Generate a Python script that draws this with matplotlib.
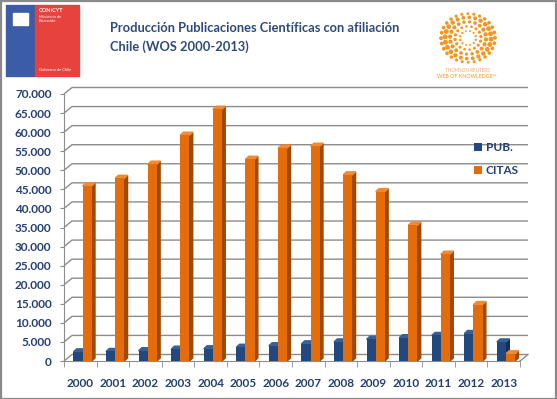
import numpy as np
import matplotlib.pyplot as plt
from matplotlib.patches import Polygon, Rectangle

# data
years = ['2000', '2001', '2002', '2003', '2004', '2005', '2006',
         '2007', '2008', '2009', '2010', '2011', '2012', '2013']
pub = [2400, 2500, 2700, 3100, 3200, 3600, 4000,
       4500, 5000, 5700, 6100, 6700, 7200, 5000]
citas = [45900, 47900, 51600, 59200, 66000, 52900, 55800,
         56300, 48800, 44400, 35600, 28000, 14800, 1900]
yticks = list(range(0, 70001, 5000))
ytick_labels = ['0'] + [f'{v // 1000}.000' for v in yticks[1:]]

NAVY = '#21497f'
ORANGE = '#e46c0a'
TXT = '#243f73'
GRID = '#8c8c8c'

plt.rcParams['font.family'] = ['Lato', 'DejaVu Sans']

W, H = 557, 399
fig = plt.figure(figsize=(W / 100, H / 100), dpi=100)
fig.patch.set_facecolor('white')

# axes: front floor from x=64..520 px, y=361 (0) .. 94 (70000)
ax = fig.add_axes([64 / W, (H - 361) / H, 456 / W, 267 / H])
ax.set_xlim(-0.5, len(years) - 0.5)
ax.set_ylim(0, 70000)
ax.patch.set_alpha(0)

px_x = (len(years)) / 456.0     # data units per pixel
px_y = 70000 / 267.0
gx, gy = 8 * px_x, 6.5 * px_y    # back wall offset
dx, dy = 3.3 * px_x, 3.0 * px_y  # bar depth

# back wall gridlines with the 3D diagonal on the left
x0, x1 = -0.5, len(years) - 0.5
for v in yticks:
    ax.plot([x0, x0 + gx, x1 + gx], [v, v + gy, v + gy], color=GRID,
            lw=1, zorder=1, clip_on=False, solid_capstyle='butt')
ax.plot([x1, x1 + gx], [0, gy], color=GRID, lw=1, zorder=1, clip_on=False)

x = np.arange(len(years))
w = 0.28
b1 = ax.bar(x - 0.07, pub, w, color=NAVY, zorder=3, label='PUB.')
b2 = ax.bar(x + 0.21, citas, w, color=ORANGE, zorder=3, label='CITAS')


def add_depth(bars, side, top):
    for r in bars:
        xl, wd, h = r.get_x(), r.get_width(), r.get_height()
        xr = xl + wd
        ax.add_patch(Polygon([(xr, 0), (xr + dx, dy), (xr + dx, h + dy), (xr, h)],
                             closed=True, color=side, zorder=2, clip_on=False))
        ax.add_patch(Polygon([(xl, h), (xl + dx, h + dy), (xr + dx, h + dy), (xr, h)],
                             closed=True, color=top, zorder=2, clip_on=False))


add_depth(b1, '#142f55', '#3a5f96')
add_depth(b2, '#9e4a06', '#f08a34')

for s in ['top', 'right']:
    ax.spines[s].set_visible(False)
ax.spines['left'].set_color(GRID)
ax.spines['bottom'].set_color(GRID)

ax.set_yticks(yticks)
ax.set_yticklabels(ytick_labels)
ax.tick_params(axis='y', length=3, color=GRID, pad=6, labelsize=8.5,
               labelcolor=TXT)
ax.set_xticks(x)
ax.set_xticklabels(years)
ax.set_xticks(np.arange(len(years) + 1) - 0.5, minor=True)
ax.tick_params(axis='x', which='major', length=0, pad=12, labelsize=8.5,
               labelcolor=TXT)
ax.tick_params(axis='x', which='minor', length=4, color=GRID)
for lab in ax.get_xticklabels() + ax.get_yticklabels():
    lab.set_fontweight('bold')

leg = ax.legend(loc='upper left', bbox_to_anchor=(468 / W, (H - 136) / H),
                bbox_transform=fig.transFigure, frameon=False,
                handlelength=0.7, handleheight=0.7, handletextpad=0.3,
                labelspacing=1.05, fontsize=8.5, borderpad=0)
for t in leg.get_texts():
    t.set_color(TXT)
    t.set_fontweight('bold')

# title
fig.text(110 / W, 1 - 28 / H, 'Producción Publicaciones Científicas con afiliación',
         fontsize=9.3, fontweight='bold', color='#2e4a7d', va='center')
fig.text(110 / W, 1 - 47 / H, 'Chile (WOS 2000-2013)',
         fontsize=9.3, fontweight='bold', color='#2e4a7d', va='center')

# CONICYT logo
fig.patches.append(Rectangle((6 / W, 1 - 76 / H), 29 / W, 71 / H,
                             transform=fig.transFigure, color='#3b5ca6', zorder=5))
fig.patches.append(Rectangle((35 / W, 1 - 76 / H), 44 / W, 71 / H,
                             transform=fig.transFigure, color='#e8423f', zorder=5))
fig.patches.append(Rectangle((13 / W, 1 - 25 / H), 15 / W, 12 / H,
                             transform=fig.transFigure, color='white', zorder=6))
fig.text(39 / W, 1 - 10 / H, 'CONICYT', fontsize=4, fontweight='bold',
         color='white', va='center', zorder=7)
fig.text(39 / W, 1 - 17 / H, 'Ministerio de', fontsize=2.8,
         color='white', va='center', zorder=7)
fig.text(39 / W, 1 - 21 / H, 'Educación', fontsize=2.8,
         color='white', va='center', zorder=7)
fig.text(39 / W, 1 - 70 / H, 'Gobierno de Chile', fontsize=3,
         color='white', va='center', zorder=7)

# Web of Knowledge logo (dot rings)
lax = fig.add_axes([430 / W, 1 - 66 / H, 76 / W, 56 / H])
lax.set_xlim(-38, 38)
lax.set_ylim(-28, 28)
lax.set_aspect('equal')
lax.axis('off')
for rad, n, base in [(8, 12, 1.5), (13, 16, 3), (18, 20, 5), (23, 24, 6.5), (27, 28, 4)]:
    ang = np.linspace(0, 2 * np.pi, n, endpoint=False) + rad * 0.1
    sz = base * (1.0 + 0.9 * np.abs(np.cos(ang)))
    lax.scatter(rad * np.cos(ang), 0.9 * rad * np.sin(ang), s=sz,
                color='#f7941d', linewidths=0)
fig.text(467 / W, 1 - 71 / H, 'THOMSON REUTERS', fontsize=3.3,
         color='#f5a868', ha='center', va='center')
fig.text(467 / W, 1 - 77 / H, 'WEB OF KNOWLEDGE\u2122', fontsize=3.8,
         color='#f7941d', ha='center', va='center')

# figure border
fig.patches.append(Rectangle((0.5 / W, 0.5 / H), 1 - 1.5 / W, 1 - 1.5 / H,
                             transform=fig.transFigure, fill=False,
                             edgecolor='#8a8a8a', lw=1.6, zorder=10))

fig.savefig('out.png', dpi=100)
